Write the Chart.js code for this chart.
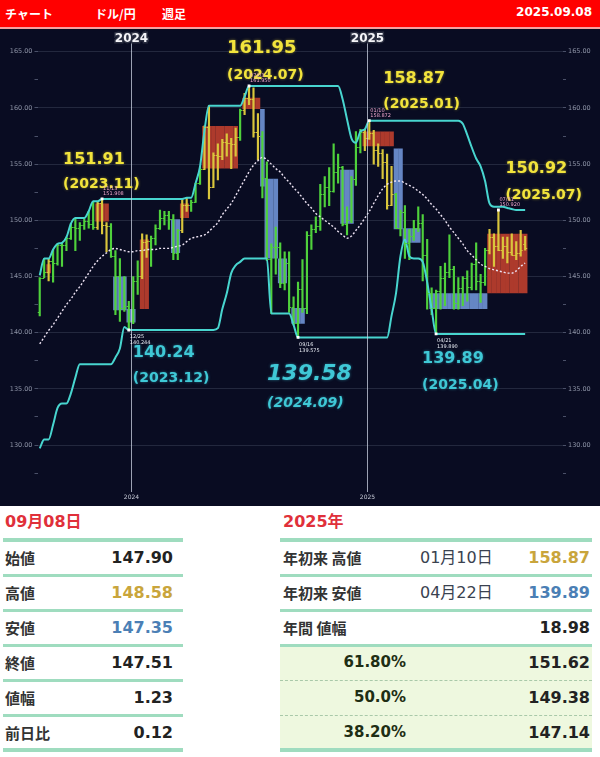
<!DOCTYPE html>
<html>
<head>
<meta charset="utf-8">
<script src="https://cdn.jsdelivr.net/npm/chart.js@4.4.1/dist/chart.umd.min.js"></script>
<style>
  body { margin: 0; width: 600px; height: 757px; background: #fff; position: relative; overflow: hidden;
         font-family: "DejaVu Sans", "Noto Sans CJK JP", sans-serif; }
  #head { position: absolute; left: 0; top: 0; width: 600px; height: 27px; background: #ff0000;
          border-bottom: 2px solid #f6a0a0; color: #fff; font-weight: bold; font-size: 12px;
          font-family: "Noto Sans CJK JP", sans-serif; }
  #head span { position: absolute; top: 5px; }
  #chartBox { position: absolute; left: 0; top: 29px; width: 600px; height: 477px; background: #090c22; }
  .title { position: absolute; top: 508px; color: #e0303a; font-weight: bold; font-size: 16px; }
  .line { position: absolute; height: 3px; background: #9fdcbf; }
  .thick { height: 4px; }
  .dots { position: absolute; height: 0; border-top: 1px dashed #a9c9a9; }
  .cell { position: absolute; height: 35px; line-height: 35px; white-space: nowrap; }
  .lab { font-family: "Noto Sans CJK JP", sans-serif; font-weight: bold; font-size: 15px; color: #333; }
  .num { font-weight: bold; font-size: 16px; color: #222; text-align: right; }
  .dt { font-family: "DejaVu Sans", "Noto Sans CJK JP", sans-serif; font-size: 16px; color: #3a4250; }
  .pct { font-weight: bold; font-size: 15px; color: #1e2e14; text-align: right; }
  #fib { position: absolute; left: 280px; top: 645px; width: 312px; height: 105px; background: #eef8df; }
</style>
</head>
<body>
<div id="head">
  <span style="left:5px">チャート</span>
  <span style="left:95px">ドル/円</span>
  <span style="left:162px">週足</span>
  <span style="right:8px;font-family:'DejaVu Sans',sans-serif;">2025.09.08</span>
</div>
<div id="chartBox"><canvas id="chart" width="600" height="477"></canvas></div>

<!-- left table -->
<div class="title" style="left:5px">09月08日</div>
<div class="line thick" style="left:3px;width:180px;top:538px"></div>
<div class="line" style="left:3px;width:180px;top:574px"></div>
<div class="line" style="left:3px;width:180px;top:609px"></div>
<div class="line" style="left:3px;width:180px;top:644px"></div>
<div class="line" style="left:3px;width:180px;top:679px"></div>
<div class="line" style="left:3px;width:180px;top:714px"></div>
<div class="line thick" style="left:3px;width:180px;top:748px"></div>
<div class="cell lab" style="left:5px;top:540px">始値</div>
<div class="cell num" style="left:60px;width:113px;top:540px">147.90</div>
<div class="cell lab" style="left:5px;top:575px">高値</div>
<div class="cell num" style="left:60px;width:113px;top:575px;color:#c9a53c">148.58</div>
<div class="cell lab" style="left:5px;top:610px">安値</div>
<div class="cell num" style="left:60px;width:113px;top:610px;color:#4b7fb5">147.35</div>
<div class="cell lab" style="left:5px;top:645px">終値</div>
<div class="cell num" style="left:60px;width:113px;top:645px">147.51</div>
<div class="cell lab" style="left:5px;top:680px">値幅</div>
<div class="cell num" style="left:60px;width:113px;top:680px">1.23</div>
<div class="cell lab" style="left:5px;top:715px">前日比</div>
<div class="cell num" style="left:60px;width:113px;top:715px">0.12</div>

<!-- right table -->
<div id="fib"></div>
<div class="title" style="left:283px">2025年</div>
<div class="line thick" style="left:280px;width:312px;top:538px"></div>
<div class="line" style="left:280px;width:312px;top:574px"></div>
<div class="line" style="left:280px;width:312px;top:609px"></div>
<div class="line" style="left:280px;width:312px;top:644px"></div>
<div class="dots" style="left:280px;width:312px;top:680px"></div>
<div class="dots" style="left:280px;width:312px;top:715px"></div>
<div class="line thick" style="left:280px;width:312px;top:748px"></div>
<div class="cell lab" style="left:283px;top:540px">年初来 高値</div>
<div class="cell dt" style="left:420px;top:540px">01月10日</div>
<div class="cell num" style="left:480px;width:110px;top:540px;color:#c9a53c">158.87</div>
<div class="cell lab" style="left:283px;top:575px">年初来 安値</div>
<div class="cell dt" style="left:420px;top:575px">04月22日</div>
<div class="cell num" style="left:480px;width:110px;top:575px;color:#4b7fb5">139.89</div>
<div class="cell lab" style="left:283px;top:610px">年間 値幅</div>
<div class="cell num" style="left:480px;width:110px;top:610px">18.98</div>
<div class="cell pct" style="left:300px;width:106px;top:645px">61.80%</div>
<div class="cell num" style="left:480px;width:110px;top:645px">151.62</div>
<div class="cell pct" style="left:300px;width:106px;top:680px">50.0%</div>
<div class="cell num" style="left:480px;width:110px;top:680px">149.38</div>
<div class="cell pct" style="left:300px;width:106px;top:715px">38.20%</div>
<div class="cell num" style="left:480px;width:110px;top:715px">147.14</div>

<script>
// weekly USD/JPY, first week 2023-08-07
const firstWeek = '2023-08-07';
const totalSlots = 118;

const opens = [141.8,144.9,145.4,146.4,146.2,147.8,147.8,148.4,149.4,149.3,149.6,149.9,149.7,149.4,151.5,149.6,149.5,146.8,145.0,142.2,
  142.4,141.0,144.6,145.0,148.1,148.2,148.4,149.3,150.2,150.5,150.1,147.1,149.1,151.4,151.4,151.6,153.3,154.6,158.3,153.0,
  155.8,155.7,157.0,156.9,156.8,157.4,159.8,160.9,160.8,157.9,157.5,153.8,146.6,147.6,147.6,144.4,146.2,142.3,140.9,143.9,
  142.2,148.7,149.2,149.5,152.3,153.0,152.6,154.3,154.7,149.7,150.0,153.7,156.5,157.9,157.3,157.8,156.3,156.0,155.2,151.4,
  152.3,149.3,150.7,148.0,148.6,149.3,149.8,146.9,143.5,142.2,143.7,144.9,145.4,145.7,142.6,144.0,144.9,144.1,146.1,144.6,
  144.5,147.4,148.5,147.7,147.4,147.7,147.2,146.9,147.1,147.90];
const highs = [144.9,146.6,146.6,147.4,147.9,148.0,148.5,149.7,150.2,149.8,150.1,150.8,151.7,151.6,151.91,149.8,149.7,147.3,146.6,145.0,
  142.8,145.0,146.4,148.8,148.7,148.6,149.6,150.9,150.8,150.8,150.5,149.2,151.9,152.0,151.8,153.3,154.8,158.4,160.2,156.0,
  156.8,157.2,157.7,157.3,158.2,159.9,161.3,161.95,161.8,159.5,157.9,155.2,147.9,149.4,148.0,147.2,147.2,143.2,144.5,146.5,
  149.0,149.6,150.3,153.2,153.9,154.7,156.8,155.9,154.8,151.2,153.9,157.9,158.1,158.1,158.87,158.0,156.8,156.3,155.9,154.8,
  152.4,150.9,151.3,149.2,150.0,151.2,150.5,148.3,144.0,143.8,145.9,146.2,148.7,145.9,144.9,145.0,145.5,146.2,148.0,145.2,
  147.5,149.2,148.8,150.92,148.5,148.5,148.8,148.1,149.1,148.58];
const lows = [141.5,144.9,144.6,144.5,146.0,145.9,147.3,148.3,147.3,148.2,149.2,149.3,149.2,149.2,148.8,147.2,146.7,141.6,141.0,141.9,
  140.24,140.8,143.4,144.8,146.7,145.9,147.8,149.2,149.6,149.2,146.5,146.5,148.9,150.8,150.8,151.6,153.2,154.5,151.9,152.9,
  153.6,155.4,155.7,154.6,155.7,157.1,159.4,160.3,157.4,155.4,152.0,146.4,141.7,145.2,144.0,143.8,141.8,140.7,139.58,141.8,
  141.7,147.4,148.9,149.1,151.2,151.3,152.5,153.3,149.5,148.7,149.8,153.1,156.0,156.2,157.2,155.0,154.8,153.7,151.0,151.3,
  149.3,148.6,146.6,146.5,148.2,149.0,144.6,142.1,141.6,139.89,142.1,142.4,144.9,142.1,142.1,142.4,142.8,143.8,143.8,142.7,
  144.2,147.0,145.9,147.3,146.6,146.2,146.9,146.5,146.8,147.35];
const closes = [144.9,145.4,146.4,146.2,147.8,147.8,148.4,149.4,149.3,149.6,149.9,149.7,149.4,151.5,149.6,149.5,146.8,145.0,142.2,142.4,
  141.0,144.6,145.0,148.1,148.2,148.4,149.3,150.2,150.5,150.1,147.1,149.1,151.4,151.4,151.6,153.3,154.6,158.3,153.0,155.8,
  155.7,157.0,156.9,156.8,157.4,159.8,160.9,160.8,157.9,157.5,153.8,146.6,147.6,147.6,144.4,146.2,142.3,140.9,143.9,142.2,
  148.7,149.2,149.5,152.3,153.0,152.6,154.3,154.7,149.7,150.0,153.7,156.5,157.9,157.3,157.8,156.3,156.0,155.2,151.4,152.3,
  149.3,150.7,148.0,148.6,149.3,149.8,146.9,143.5,142.2,143.7,144.9,145.4,145.7,142.6,144.0,144.9,144.1,146.1,144.6,144.5,
  147.4,148.5,147.7,147.4,147.7,147.2,146.9,147.1,147.4,147.51];

const upperBand = [145.1,146.6,146.6,147.4,147.9,148.0,148.5,149.7,150.2,150.2,150.2,150.8,151.7,151.7,151.9,151.9,151.9,151.9,151.9,151.9,
  151.9,151.9,151.9,151.9,151.9,151.9,151.9,151.9,151.9,151.9,151.9,151.9,151.9,152.0,152.0,153.3,154.8,158.0,160.2,160.2,
  160.2,160.2,160.2,160.2,160.2,160.2,161.0,161.95,161.95,161.95,161.95,161.95,161.95,161.95,161.95,161.95,161.95,161.95,161.95,161.95,
  161.95,161.95,161.95,161.95,161.95,161.95,161.95,161.95,160.8,159.0,157.3,156.9,157.9,158.1,158.87,158.87,158.87,158.87,158.87,158.87,
  158.87,158.87,158.87,158.87,158.87,158.87,158.87,158.87,158.87,158.87,158.87,158.87,158.87,158.87,158.87,158.6,157.6,156.5,155.5,154.8,
  153.5,151.5,151.2,151.2,151.2,151.1,151.0,150.92,150.92,150.92];
const lowerBand = [129.7,130.5,130.5,131.8,133.3,133.7,133.7,134.6,136.0,137.2,137.2,137.2,137.2,137.2,137.2,137.2,137.2,137.8,138.6,140.5,
  140.24,140.24,140.24,140.24,140.24,140.24,140.24,140.24,140.24,140.24,140.24,140.24,140.24,140.24,140.24,140.24,140.24,140.24,140.24,140.24,
  140.4,142.1,143.5,145.3,146.0,146.3,146.6,146.6,146.6,146.6,146.6,146.6,141.7,141.7,141.7,141.7,141.7,140.7,139.58,139.58,
  139.58,139.58,139.58,139.58,139.58,139.58,139.58,139.58,139.58,139.58,139.58,139.58,139.58,139.58,139.58,139.58,139.58,139.58,139.58,141.5,
  143.5,146.8,148.3,146.8,146.6,146.6,146.3,144.5,142.1,139.89,139.89,139.89,139.89,139.89,139.89,139.89,139.89,139.89,139.89,139.89,
  139.89,139.89,139.89,139.89,139.89,139.89,139.89,139.89,139.89,139.89];
const movingAvg = [139.0,139.6,140.2,140.7,141.3,141.9,142.5,143.0,143.6,144.1,144.7,145.3,145.9,146.4,146.8,147.1,147.4,147.5,147.4,147.3,
  147.2,147.2,147.3,147.3,147.4,147.4,147.4,147.5,147.5,147.5,147.6,147.7,147.8,148.1,148.4,148.5,148.6,148.7,149.0,149.4,
  149.8,150.5,151.0,151.5,152.2,152.9,153.6,154.3,154.9,155.3,155.6,155.4,155.0,154.6,154.3,153.8,153.4,152.9,152.5,152.0,
  151.5,151.1,150.6,150.3,150.0,149.7,149.4,149.0,148.7,148.4,148.6,149.1,149.6,150.2,150.8,151.5,152.2,152.8,153.2,153.4,
  153.5,153.5,153.3,153.1,152.9,152.6,152.3,151.9,151.4,151.0,150.5,150.0,149.4,148.9,148.4,147.9,147.3,146.9,146.5,146.1,
  145.9,145.7,145.6,145.5,145.4,145.3,145.3,145.5,145.9,146.2];

// range boxes (week index from / to, price low / high)
const boxFrom = [2,13,17,20,23,30,32,37,46,50,51,54,57,68,73,80,82,88,101];
const boxTo   = [2,15,19,21,24,31,33,44,49,50,53,55,59,70,79,81,85,100,109];
const boxLow  = [145.3,149.9,142.0,140.9,142.1,147.1,150.2,154.6,159.9,153.0,146.6,144.4,140.8,149.7,156.6,149.2,148.0,142.1,143.5];
const boxHigh = [146.1,151.5,145.0,142.1,148.3,150.1,151.5,158.4,160.9,159.9,153.7,146.6,142.2,154.5,157.9,156.4,149.3,143.5,148.8];
const boxKind = ['down','down','up','up','down','up','down','down','down','up','up','up','up','up','down','up','up','up','down'];

// marked highs / lows
const extremeIdx  = [14,47,74,103,20,58,89];
const extremeVal  = [151.91,161.95,158.87,150.92,140.24,139.58,139.89];
const extremeDate = ['(2023.11)','(2024.07)','(2025.01)','(2025.07)','(2023.12)','(2024.09)','(2025.04)'];
const extremeDay  = ['11/13','07/03','01/10','07/31','12/25','09/16','04/21'];
const extremeRaw  = ['151.908','161.950','158.872','150.920','140.244','139.575','139.890'];

const yearNames = ['2024','2025'];
const yearAt = [20.5, 73.5];

// label styling
const noteDx   = [-39,-22,14,7,4,-31,-14];
const noteDy   = [-39,-38,-42,-41,23,37,25];
const dateDy   = [-14,-11,-16,-15,48,66,51];
const noteSize = [16,18,16,16,16,22,16];

const labels = [];
const d0 = new Date(firstWeek + 'T00:00:00Z');
for (let i = 0; i < totalSlots; i++) {
  labels.push(new Date(d0.getTime() + i * 7 * 864e5).toISOString().slice(0, 10));
}

const RED = '#ad3a2c', BLUE = '#6586c4';
const n = highs.length;
const boxData = new Array(n).fill(null);
const boxColors = new Array(n).fill('rgba(0,0,0,0)');
const stickColors = new Array(n).fill('#4fd13c');
boxFrom.forEach((f, k) => {
  for (let i = f; i <= boxTo[k]; i++) {
    boxData[i] = [boxLow[k], boxHigh[k]];
    boxColors[i] = boxKind[k] === 'down' ? RED : BLUE;
    if (boxKind[k] === 'down') stickColors[i] = '#d9c63c';
  }
});
const markers = new Array(n).fill(null);
extremeIdx.forEach((i, k) => { markers[i] = extremeVal[k]; });

const overlay = {
  id: 'overlay',
  afterDatasetsDraw(chart) {
    const c = chart.ctx, xs = chart.scales.x, ys = chart.scales.y, a = chart.chartArea;
    c.save();
    // open / close ticks
    for (let i = 0; i < n; i++) {
      const x = xs.getPixelForValue(i);
      c.fillStyle = stickColors[i];
      c.fillRect(x - 2, Math.round(ys.getPixelForValue(opens[i])), 2, 1);
      c.fillRect(x, Math.round(ys.getPixelForValue(closes[i])), 2, 1);
    }
    // year lines
    yearAt.forEach((v, k) => {
      const x = Math.round(xs.getPixelForValue(v)) + 0.5;
      c.strokeStyle = 'rgba(205,212,228,0.75)';
      c.lineWidth = 1;
      c.beginPath(); c.moveTo(x, a.top - 2); c.lineTo(x, a.bottom + 2); c.stroke();
      c.textAlign = 'center'; c.textBaseline = 'middle';
      c.font = 'bold 12px "DejaVu Sans"';
      c.lineWidth = 3; c.strokeStyle = '#2a2e40';
      c.strokeText(yearNames[k], x, a.top + 4);
      c.fillStyle = '#f4f4f8';
      c.fillText(yearNames[k], x, a.top + 4);
      c.font = '6px "DejaVu Sans"';
      c.fillStyle = '#c8ccd8';
      c.fillText(yearNames[k], x, a.bottom + 7);
    });
    // notes
    extremeIdx.forEach((i, k) => {
      const px = xs.getPixelForValue(i), py = ys.getPixelForValue(extremeVal[k]);
      const isHigh = k < 4;
      const col = isHigh ? '#f2e43c' : '#3fc8d6';
      const it = k === 5 ? 'italic ' : '';
      c.textAlign = 'left'; c.textBaseline = 'middle';
      c.shadowColor = isHigh ? 'rgba(240,220,60,0.5)' : 'rgba(60,200,220,0.5)';
      c.shadowBlur = 3;
      c.fillStyle = col;
      c.font = it + 'bold ' + noteSize[k] + 'px "DejaVu Sans"';
      c.fillText(extremeVal[k].toFixed(2), px + noteDx[k], py + noteDy[k]);
      c.font = it + 'bold 14px "DejaVu Sans"';
      c.fillText(extremeDate[k], px + noteDx[k], py + dateDy[k]);
      c.shadowBlur = 0;
      c.font = '5px "DejaVu Sans"';
      c.fillStyle = isHigh ? '#f0a8cc' : '#e8ecf4';
      if (isHigh) {
        c.fillText(extremeDay[k], px + 1, py - 10);
        c.fillText(extremeRaw[k], px + 1, py - 5);
      } else {
        c.fillText(extremeDay[k], px + 1, py + 7);
        c.fillText(extremeRaw[k], px + 1, py + 13);
      }
    });
    c.restore();
  }
};

const yTicks = {
  stepSize: 2.5,
  color: '#8d93a6',
  font: { size: 6.5, family: 'DejaVu Sans' },
  padding: 2,
  callback: v => (v % 5 === 0 ? v.toFixed(2) : '')
};

new Chart(document.getElementById('chart'), {
  type: 'bar',
  data: {
    labels: labels,
    datasets: [
      { type: 'line', data: markers, showLine: false, pointStyle: 'rect', pointRadius: 2,
        pointBackgroundColor: '#ffffff', pointBorderWidth: 0, order: 0 },
      { type: 'line', data: upperBand, borderColor: '#48d5cf', borderWidth: 2, pointRadius: 0,
        cubicInterpolationMode: 'monotone', order: 1 },
      { type: 'line', data: lowerBand, borderColor: '#48d5cf', borderWidth: 2, pointRadius: 0,
        cubicInterpolationMode: 'monotone', order: 1 },
      { type: 'line', data: movingAvg, borderColor: '#ece2f2', borderWidth: 1.4, borderDash: [2, 2],
        pointRadius: 0, cubicInterpolationMode: 'monotone', order: 2 },
      { data: highs.map((h, i) => [lows[i], h]), backgroundColor: stickColors,
        barThickness: 1.5, grouped: false, order: 3 },
      { data: boxData, backgroundColor: boxColors, barPercentage: 1.04, categoryPercentage: 1,
        grouped: false, order: 4 }
    ]
  },
  options: {
    responsive: false,
    animation: false,
    devicePixelRatio: 1,
    layout: { padding: { top: 4, bottom: 16, left: 0, right: 0 } },
    plugins: { legend: { display: false }, tooltip: { enabled: false } },
    scales: {
      x: { display: false, offset: true },
      y: {
        position: 'left', min: 126, max: 166.5,
        ticks: yTicks,
        border: { display: false },
        grid: {
          color: c => (c.tick && c.tick.value % 5 === 0 ? 'rgba(200,210,235,0.14)' : 'rgba(0,0,0,0)'),
          tickColor: c => (c.tick && c.tick.value % 2.5 === 0 ? '#4a5068' : 'rgba(0,0,0,0)'),
          tickLength: 3
        },
        afterFit: s => { s.width = 37.5; }
      },
      y2: {
        position: 'right', min: 126, max: 166.5,
        ticks: yTicks,
        border: { display: false },
        grid: {
          drawOnChartArea: false,
          tickColor: c => (c.tick && c.tick.value % 2.5 === 0 ? '#4a5068' : 'rgba(0,0,0,0)'),
          tickLength: 3
        },
        afterFit: s => { s.width = 37; }
      }
    }
  },
  plugins: [overlay]
});
</script>
</body>
</html>
